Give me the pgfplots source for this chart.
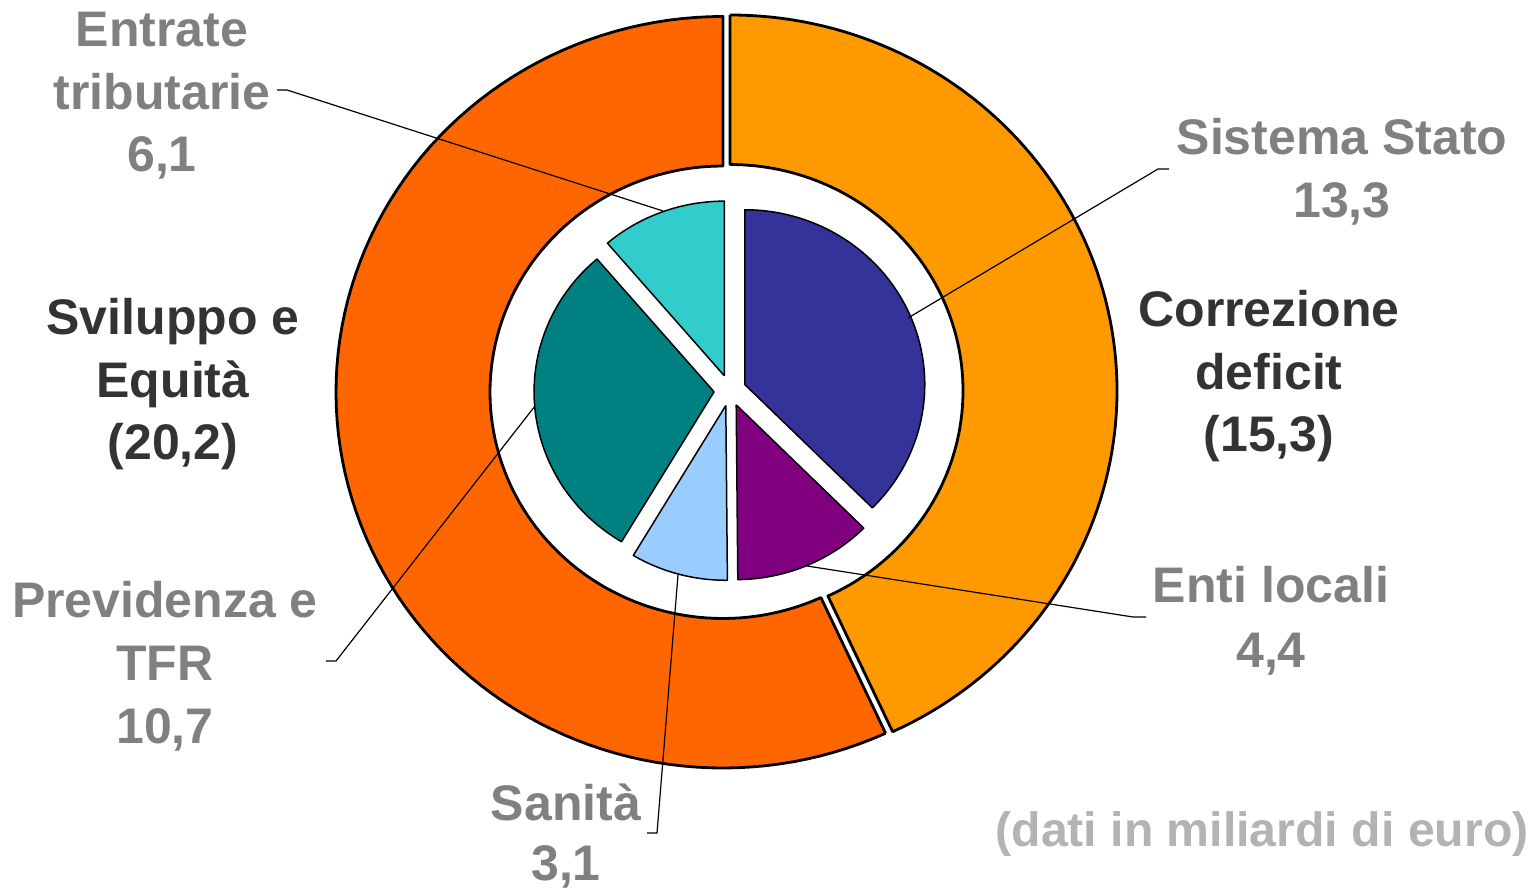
\documentclass[border=0pt]{standalone}
\usepackage{pgfplots}
\pgfplotsset{compat=1.18}
\usepackage{fontspec}
\setmainfont{Liberation Sans}
\definecolor{dorange}{HTML}{FF6600}
\definecolor{lorange}{HTML}{FF9900}
\definecolor{cblue}{HTML}{333399}
\definecolor{cpurple}{HTML}{800080}
\definecolor{clblue}{HTML}{99CCFF}
\definecolor{cteal}{HTML}{008080}
\definecolor{ccyan}{HTML}{33CCCC}
\definecolor{tgray}{HTML}{808080}
\definecolor{tdark}{HTML}{333333}
\definecolor{tlight}{HTML}{B3B3B3}
\newcommand\lf{\fontsize{25}{30}\selectfont\bfseries}
% total of the chart (both rings)
\def\tot{35.5}
% outer ring segment: start, value, colour
\newcommand{\ringseg}[3]{%
 \pgfmathsetmacro\mA{90-360*(#1+#2/2)/\tot}%
 \pgfmathsetmacro\ox{726.5+3.6*cos(\mA)}%
 \pgfmathsetmacro\oy{497.5+3.6*0.971*sin(\mA)}%
 \addplot[fill=#3, draw=black, line width=1.4pt, line join=round, domain=0:2.02, samples=203, variable=\t]
 ({\ox + ringr(\t)*cos(90-360*(#1+#2*ringp(\t))/\tot)},
  {\oy + 0.971*ringr(\t)*sin(90-360*(#1+#2*ringp(\t))/\tot)});
}
% inner pie slice: start, value, colour
\newcommand{\pieslice}[3]{%
 \pgfmathsetmacro\mA{90-360*(#1+#2/2)/\tot}%
 \pgfmathsetmacro\ox{730+16*cos(\mA)}%
 \pgfmathsetmacro\oy{498.5+16*0.971*sin(\mA)}%
 \addplot[fill=#3, draw=black, line width=0.75pt, line join=round, domain=-0.02:1.02, samples=105, variable=\t]
 ({\ox + pier(\t)*cos(90-360*(#1+#2*piep(\t))/\tot)},
  {\oy + 0.971*pier(\t)*sin(90-360*(#1+#2*piep(\t))/\tot)});
}
\newcommand{\lab}[4]{\node[anchor=base, inner sep=0pt, text=#1, font=\lf] at (axis cs:#2,#3) {#4};}
\begin{document}
\begin{tikzpicture}[declare function={
  ringr(\s)=(\s<1.005) ? 387 : ((\s>2.015) ? 387 : 233);
  ringp(\s)=(\s<1.005) ? min(\s,1) : ((\s>2.015) ? 0 : max(0,2.01-\s));
  pier(\s)=(abs(\s-0.5)>0.505) ? 0 : 180;
  piep(\s)=max(0,min(1,\s));
}]
\begin{axis}[x=0.5pt, y=0.5pt, xmin=0, xmax=1535, ymin=0, ymax=889,
  hide axis, clip=false]
% outer ring: Correzione deficit 15.3, Sviluppo e Equita 20.2
\ringseg{0}{15.3}{lorange}
\ringseg{15.3}{20.2}{dorange}
% inner pie
\pieslice{0}{13.3}{cblue}
\pieslice{13.3}{4.4}{cpurple}
\pieslice{17.7}{3.1}{clblue}
\pieslice{20.8}{10.7}{cteal}
\pieslice{31.5}{4.0}{ccyan}
% leader lines
\addplot[black, line width=0.6pt] coordinates {(277,799) (287,799) (663,678)};
\addplot[black, line width=0.6pt] coordinates {(908,571) (1158,720) (1169,720)};
\addplot[black, line width=0.6pt] coordinates {(807,323) (1133,272) (1146,272)};
\addplot[black, line width=0.6pt] coordinates {(678,314) (657,56) (647,56)};
\addplot[black, line width=0.6pt] coordinates {(535,483) (336,228) (326,228)};
% labels
\lab{tgray}{162}{842}{Entrate}
\lab{tgray}{162}{779}{tributarie}
\lab{tgray}{162}{717}{6,1}
\lab{tgray}{1342}{734}{Sistema Stato}
\lab{tgray}{1342}{671}{13,3}
\lab{tdark}{1269}{562}{Correzione}
\lab{tdark}{1269}{499}{deficit}
\lab{tdark}{1269}{437}{(15,3)}
\lab{tdark}{173}{554}{Sviluppo e}
\lab{tdark}{173}{491}{Equità}
\lab{tdark}{173}{429}{(20,2)}
\lab{tgray}{165}{271}{Previdenza e}
\lab{tgray}{165}{209}{TFR}
\lab{tgray}{165}{146}{10,7}
\lab{tgray}{566}{69}{Sanità}
\lab{tgray}{566}{9}{3,1}
\lab{tgray}{1271}{286}{Enti locali}
\lab{tgray}{1271}{222}{4,4}
\node[anchor=base, inner sep=0pt, text=tlight, font=\fontsize{24.1}{29}\selectfont\bfseries] at (axis cs:1262,43) {(dati in miliardi di euro)};
\end{axis}
\pgfresetboundingbox
\path (current axis.south west) rectangle (current axis.north east);
\end{tikzpicture}
\end{document}
